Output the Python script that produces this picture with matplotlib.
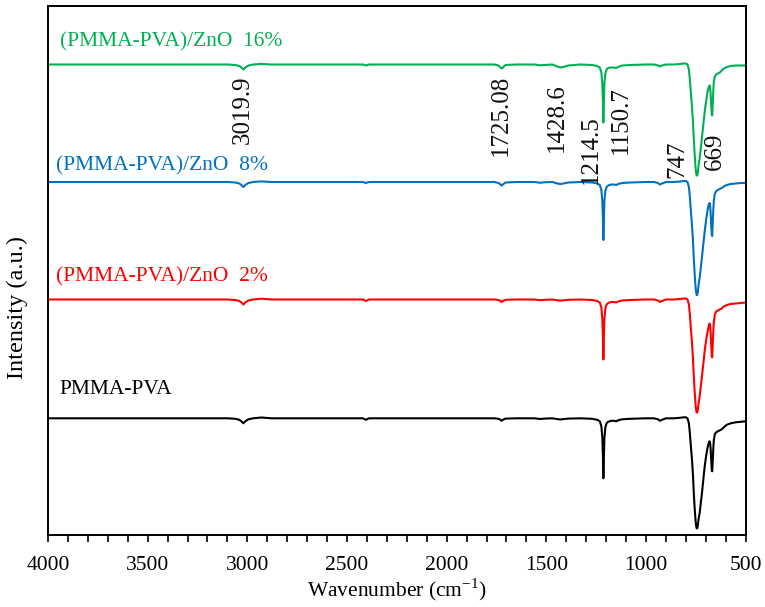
import matplotlib
matplotlib.use("Agg")
import matplotlib.pyplot as plt
import numpy as np

plt.rcParams['font.family'] = ['Liberation Serif', 'DejaVu Serif']
plt.rcParams['mathtext.fontset'] = 'custom'
plt.rcParams['mathtext.rm'] = 'Liberation Serif'

# ---------------- data ----------------
wavenumber = [4000, 3800, 3600, 3400, 3200, 3100, 3060, 3040, 3030, 3020, 3010, 2995, 2970,
              2930, 2880, 2700, 2500, 2420, 2405, 2390, 2200, 2000, 1850, 1760, 1740, 1730,
              1725, 1718, 1705, 1650, 1560, 1530, 1510, 1470, 1445, 1430, 1415, 1390, 1330,
              1270, 1245, 1232, 1224, 1219, 1216, 1214, 1212, 1209, 1204, 1198, 1190, 1175,
              1160, 1150, 1140, 1120, 1080, 1000, 960, 940, 930, 920, 900, 860, 830, 810,
              800, 792, 785, 780, 775, 770, 765, 760, 756, 752, 749, 746, 743, 740, 736,
              731, 726, 720, 712, 705, 698, 692, 686, 682, 679, 676, 673, 670, 668, 666,
              663, 660, 655, 648, 640, 630, 620, 610, 595, 575, 550, 525, 500]

# intensity relative to each trace's baseline (a.u., negative = absorption)
pmma_pva = [0, 0, 0, 0, 0, 0, -0.5, -1.5, -3, -5, -3, -1, 0,
            0.8, 0, 0, 0, 0, -1.5, 0, 0, 0, 0, 0, -0.5, -1.5,
            -2.5, -1.5, -0.3, 0, 0, -0.7, -0.3, 0, -0.8, -1.2, -0.8, -0.3, 0,
            -0.5, -1.5, -3, -8, -20, -40, -60, -44, -20, -9, -5, -3.5, -2.5,
            -2.5, -3, -2, -1, -0.5, 0, 0, -1, -2.5, -1.5, 0, 0, 0.5, 1,
            1, 0, -5, -15, -28, -40, -55, -76, -90, -101, -107, -110, -110, -107, -100,
            -95, -86, -76, -60, -47, -37, -30, -25, -23, -24, -30, -42, -52, -53, -45,
            -32, -22, -16, -14, -13, -12, -11, -9, -6.5, -5, -4, -3.5, -3]

zno_2 = [0, 0, 0, 0, 0, 0, -0.5, -1.5, -3, -5, -3, -1, 0,
         0.8, 0, 0, 0, 0, -1.5, 0, 0, 0, 0, 0, -0.5, -1.5,
         -2.5, -1.5, -0.3, 0, 0, -0.7, -0.3, 0, -0.8, -1.2, -0.8, -0.3, 0,
         -0.5, -1.5, -3, -8, -20, -40, -60, -44, -20, -9, -5, -3.5, -2.5,
         -2.5, -3, -2, -1, -0.5, 0, 0, -1, -2.5, -1.5, 0, 0, 0.5, 1,
         1, 0, -5, -15, -29, -42, -57, -78, -92, -104, -110, -113, -113, -110, -103,
         -97, -88, -78, -63, -50, -40, -33, -27, -24, -25, -32, -45, -57, -58, -48,
         -34, -23, -15, -12, -11, -10, -9, -7, -5.5, -4.5, -4, -3.5, -3]

zno_8 = [0, 0, 0, 0, 0, 0, -0.5, -1.5, -3, -5, -3, -1, 0,
         0.6, 0, 0, 0, 0, -1, 0, 0, 0, 0, 0, -1, -2.5,
         -3.5, -2.5, -0.5, 0, 0, -0.8, -0.3, 0, -1.5, -2, -1.5, -0.5, 0,
         -0.5, -1.5, -3, -8, -20, -38, -58, -42, -19, -9, -5, -3.5, -2.5,
         -2.5, -3, -2, -1, -0.5, 0, 0, -1, -2.5, -1.5, 0, 0, 0.5, 1,
         1, 0, -5, -15, -29, -42, -57, -78, -92, -104, -110, -113, -113, -110, -102,
         -96, -87, -76, -61, -48, -37, -29, -23, -21, -22, -30, -43, -53, -54, -44,
         -30, -19, -12, -9, -8, -7, -6, -4.5, -3, -2, -1.5, -1, -1]

zno_16 = [0, 0, 0, 0, 0, 0, -0.5, -1.5, -3, -5, -3, -1, 0,
          0.6, 0, 0, 0, 0, -1, 0, 0, 0, 0, 0, -1, -3,
          -4, -3, -0.5, 0, 0, -0.8, -0.5, 0, -2, -3, -2.5, -1, 0,
          -0.5, -1.5, -3, -8, -20, -38, -58, -42, -19, -9, -5, -3.5, -3,
          -3, -3.5, -2.5, -1, -0.5, 0, 0, -1, -2, -1, 0, 0, 0.5, 1,
          1, 0, -5, -15, -28, -41, -56, -76, -90, -102, -108, -111, -111, -108, -100,
          -94, -85, -74, -59, -46, -36, -28, -23, -21, -22, -29, -41, -50, -51, -42,
          -28, -17, -12, -10, -9, -8, -6, -4, -2.5, -1.5, -1, -1, -1]

series_names = ['PMMA-PVA', '(PMMA-PVA)/ZnO  2%', '(PMMA-PVA)/ZnO  8%', '(PMMA-PVA)/ZnO  16%']
series_values = [pmma_pva, zno_2, zno_8, zno_16]

peak_labels = ['3019.9', '1725.08', '1428.6', '1214.5', '1150.7', '747', '669']

# ---------------- styling / layout ----------------
colors = ['#000000', '#FF0000', '#0070C0', '#00B050']
offsets = [116.7, 235.5, 353.0, 470.5]
label_pos = [(3941, 145), (3961, 258.3), (3961, 369.3), (3941, 493)]
peak_text_pos = [(3022, 425), (1728, 420), (1447, 417), (1277, 385),
                 (1126, 415), (841, 376), (657, 384)]

fig = plt.figure(figsize=(7.65, 6.07), dpi=100)
ax = fig.add_axes([48 / 765, 72 / 607, (745.7 - 48) / 765, (535 - 5.5) / 607])

wn = np.array(wavenumber)
for vals, off, col in zip(series_values, offsets, colors):
    ax.plot(wn, np.array(vals) + off, color=col, lw=1.5, solid_joinstyle='round')

for name, (x, y), col in zip(series_names, label_pos, colors):
    ax.text(x, y, name, color=col, fontsize=15.5, ha='left', va='center')

for txt, (x, y) in zip(peak_labels, peak_text_pos):
    ax.text(x, y, txt, rotation=90, fontsize=18, ha='center', va='center', color='#111111')

ax.set_xlim(4000, 500)
ax.set_ylim(0, 529.5)
ax.set_xticks(np.arange(4000, 499, -500))
ax.set_xticks(np.arange(4000, 499, -100), minor=True)
ax.set_yticks([])
ax.tick_params(axis='x', which='both', direction='out', length=5, width=1.2,
               labelsize=15.5, pad=10)
for s in ax.spines.values():
    s.set_linewidth(1.4)

ax.set_xlabel(r'Wavenumber (cm$^{\mathregular{-1}}$)', fontsize=15.5, labelpad=1)
ax.set_ylabel('Intensity (a.u.)', fontsize=17.5)
ax.yaxis.set_label_coords(-0.028, 0.43)

fig.savefig('out.png', dpi=100)
